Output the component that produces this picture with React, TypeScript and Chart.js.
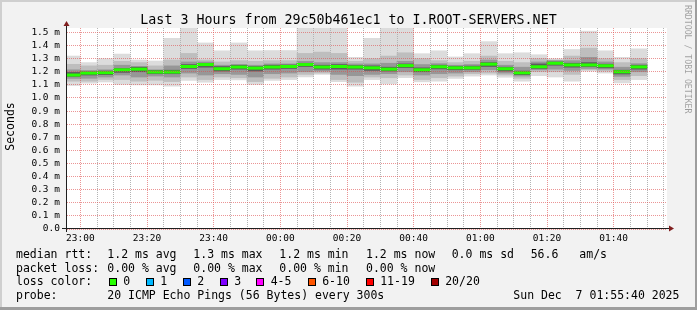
import React, { useEffect, useRef } from 'react';
import { Chart, registerables } from 'chart.js';

Chart.register(...registerables);

// ---------- data ----------
const title = 'Last 3 Hours from 29c50b461ec1 to I.ROOT-SERVERS.NET';
const yTitle = 'Seconds';
const watermark = 'RRDTOOL / TOBI OETIKER';

const rangeStart = '22:56';
const rangeEnd = '01:56';
const binMinutes = 5;

// start time of each 5-minute sample (300 s step)
const binStarts = [
  '22:55', '23:00', '23:05', '23:10', '23:15', '23:20', '23:25', '23:30', '23:35', '23:40', '23:45', '23:50',
  '23:55', '00:00', '00:05', '00:10', '00:15', '00:20', '00:25', '00:30', '00:35', '00:40', '00:45', '00:50',
  '00:55', '01:00', '01:05', '01:10', '01:15', '01:20', '01:25', '01:30', '01:35', '01:40', '01:45',
];

// median rtt (ms)
const median = [
  1.175, 1.19, 1.193, 1.215, 1.22, 1.198, 1.198, 1.24, 1.255, 1.223, 1.236, 1.228,
  1.236, 1.24, 1.255, 1.236, 1.24, 1.236, 1.23, 1.22, 1.247, 1.215, 1.238, 1.23,
  1.23, 1.258, 1.223, 1.192, 1.238, 1.265, 1.252, 1.252, 1.246, 1.2, 1.237,
];
// smoke: outermost pings (min / max)
const smokeMax = [
  1.32, 1.27, 1.3, 1.335, 1.29, 1.282, 1.455, 1.6, 1.42, 1.36, 1.42, 1.36,
  1.362, 1.362, 1.6, 1.6, 1.6, 1.31, 1.455, 1.6, 1.6, 1.338, 1.36, 1.313,
  1.338, 1.43, 1.338, 1.345, 1.33, 1.3, 1.37, 1.51, 1.36, 1.31, 1.375,
];
const smokeMin = [
  1.095, 1.113, 1.122, 1.103, 1.1, 1.1, 1.09, 1.134, 1.12, 1.14, 1.138, 1.103,
  1.134, 1.14, 1.16, 1.18, 1.125, 1.09, 1.14, 1.108, 1.154, 1.123, 1.128, 1.149,
  1.167, 1.175, 1.158, 1.128, 1.17, 1.16, 1.128, 1.205, 1.19, 1.115, 1.14,
];
// smoke: middle band
const smokeMidHi = [
  1.257, 1.245, 1.25, 1.28, 1.27, 1.245, 1.29, 1.34, 1.29, 1.275, 1.285, 1.28,
  1.285, 1.285, 1.34, 1.35, 1.34, 1.28, 1.3, 1.32, 1.345, 1.3, 1.285, 1.27,
  1.28, 1.32, 1.28, 1.27, 1.3, 1.29, 1.32, 1.38, 1.3, 1.27, 1.3,
];
const smokeMidLo = [
  1.128, 1.128, 1.141, 1.14, 1.128, 1.135, 1.125, 1.16, 1.14, 1.16, 1.154, 1.125,
  1.15, 1.16, 1.18, 1.19, 1.14, 1.12, 1.16, 1.154, 1.175, 1.14, 1.154, 1.167,
  1.185, 1.19, 1.175, 1.15, 1.2, 1.2, 1.18, 1.215, 1.205, 1.14, 1.17,
];
// smoke: inner band
const smokeInHi = [
  1.215, 1.21, 1.215, 1.25, 1.24, 1.215, 1.245, 1.275, 1.275, 1.25, 1.255, 1.25,
  1.26, 1.26, 1.28, 1.27, 1.27, 1.26, 1.26, 1.265, 1.28, 1.255, 1.262, 1.25,
  1.255, 1.29, 1.25, 1.235, 1.275, 1.285, 1.285, 1.31, 1.275, 1.235, 1.262,
];
const smokeInLo = [
  1.149, 1.15, 1.16, 1.175, 1.16, 1.167, 1.16, 1.19, 1.175, 1.185, 1.18, 1.16,
  1.185, 1.19, 1.2, 1.205, 1.18, 1.17, 1.18, 1.185, 1.2, 1.175, 1.185, 1.19,
  1.2, 1.215, 1.19, 1.167, 1.215, 1.22, 1.21, 1.225, 1.22, 1.165, 1.2,
];
// smoke: darkest core around the median
const smokeCoreHi = [
  1.195, 1.2, 1.205, 1.225, 1.235, 1.21, 1.212, 1.255, 1.265, 1.24, 1.25, 1.24,
  1.25, 1.252, 1.265, 1.25, 1.255, 1.248, 1.245, 1.235, 1.26, 1.23, 1.25, 1.242,
  1.243, 1.27, 1.235, 1.205, 1.26, 1.275, 1.265, 1.27, 1.258, 1.212, 1.25,
];
const smokeCoreLo = [
  1.165, 1.175, 1.178, 1.195, 1.2, 1.185, 1.185, 1.225, 1.235, 1.205, 1.22, 1.205,
  1.22, 1.225, 1.24, 1.22, 1.22, 1.22, 1.21, 1.205, 1.232, 1.2, 1.222, 1.215,
  1.218, 1.24, 1.205, 1.178, 1.225, 1.25, 1.235, 1.24, 1.23, 1.183, 1.22,
];

const xTickLabels = ['23:00', '23:20', '23:40', '00:00', '00:20', '00:40', '01:00', '01:20', '01:40'];
const yTickValues = [0, 0.1, 0.2, 0.3, 0.4, 0.5, 0.6, 0.7, 0.8, 0.9, 1.0, 1.1, 1.2, 1.3, 1.4, 1.5];
const yMax = 1.534;

const rttLabel = 'median rtt:';
const rttStats = ['1.2 ms avg', '1.3 ms max', '1.2 ms min', '1.2 ms now', '0.0 ms sd', '56.6', 'am/s'];
const lossLabel = 'packet loss:';
const lossStats = ['0.00 % avg', '0.00 % max', '0.00 % min', '0.00 % now'];
const lossColorLabel = 'loss color:';
const lossNames = ['0', '1', '2', '3', '4-5', '6-10', '11-19', '20/20'];
const lossColors = ['#26ff00', '#00b8ff', '#0059ff', '#7e00ff', '#ff00ff', '#ff5500', '#ff0000', '#a10000'];
const probeLabel = 'probe:';
const probeText = '20 ICMP Echo Pings (56 Bytes) every 300s';
const dateText = 'Sun Dec  7 01:55:40 2025';

// ---------- style ----------
const MONO = '"DejaVu Sans Mono", monospace';
const BACK = '#f2f2f2';
const SHADEA = '#cfcfcf';
const SHADEB = '#9e9e9e';
const GRID_DOT = '#b4b4b4';
const MGRID = 'rgba(222,79,79,0.6)';
const AXIS = '#1f1f1f';
const ARROW = '#801f1f';
const MED_HALF = 0.009;

const toMin = (t: string) => {
  const [h, m] = t.split(':').map(Number);
  return (h < 12 ? h + 24 : h) * 60 + m;
};
const T0 = toMin(rangeStart);
const T1 = toMin(rangeEnd);
const xOf = (t: string) => toMin(t) - T0;
const majorX = xTickLabels.map(xOf);

const band = (lo: number[], hi: number[]) =>
  binStarts.map((t, i) => ({ x: xOf(t) + binMinutes / 2, y: [lo[i], hi[i]] }));

const decor = {
  id: 'decor',
  beforeDraw(chart: any) {
    const { ctx, chartArea: a, width, height } = chart;
    ctx.save();
    ctx.fillStyle = BACK;
    ctx.fillRect(0, 0, width, height);
    ctx.fillStyle = SHADEA;
    ctx.fillRect(0, 0, width, 2);
    ctx.fillRect(0, 0, 2, height);
    ctx.fillStyle = SHADEB;
    ctx.fillRect(0, height - 3, width, 3);
    ctx.fillRect(width - 2, 0, 2, height);
    ctx.fillStyle = '#ffffff';
    ctx.fillRect(a.left, a.top, a.right - a.left, a.bottom - a.top);
    ctx.restore();
  },
  afterDatasetsDraw(chart: any) {
    // minor (5 minute) vertical grid, dotted, drawn over the smoke like rrdtool does
    const { ctx, chartArea: a } = chart;
    const xs = chart.scales.x;
    ctx.save();
    ctx.fillStyle = GRID_DOT;
    for (let v = majorX[0] % binMinutes; v < T1 - T0; v += binMinutes) {
      if (majorX.includes(v)) continue;
      const px = Math.round(xs.getPixelForValue(v) - 0.5);
      for (let y = Math.round(a.top); y < a.bottom - 1; y += 2) ctx.fillRect(px, y, 1, 1);
    }
    ctx.restore();
  },
  afterDraw(chart: any) {
    const { ctx, chartArea: a } = chart;
    ctx.save();
    // axes
    const yAx = a.bottom - 0.5;
    const xAx = a.left - 0.5;
    ctx.strokeStyle = AXIS;
    ctx.lineWidth = 1;
    ctx.beginPath();
    ctx.moveTo(a.left - 5, yAx);
    ctx.lineTo(a.right + 3, yAx);
    ctx.moveTo(xAx, a.bottom + 3);
    ctx.lineTo(xAx, a.top - 2);
    ctx.stroke();
    ctx.fillStyle = ARROW;
    ctx.beginPath();
    ctx.moveTo(a.right + 2, yAx - 3);
    ctx.lineTo(a.right + 7, yAx);
    ctx.lineTo(a.right + 2, yAx + 3);
    ctx.closePath();
    ctx.fill();
    ctx.beginPath();
    ctx.moveTo(xAx - 3, a.top - 2);
    ctx.lineTo(xAx, a.top - 7);
    ctx.lineTo(xAx + 3, a.top - 2);
    ctx.closePath();
    ctx.fill();

    // title
    ctx.fillStyle = '#000';
    ctx.font = `13.3px ${MONO}`;
    ctx.textAlign = 'center';
    ctx.textBaseline = 'alphabetic';
    ctx.fillText(title, 348.5, 23.5);

    // y title
    ctx.save();
    ctx.font = `11.5px ${MONO}`;
    ctx.translate(11, 126.5);
    ctx.rotate(-Math.PI / 2);
    ctx.textAlign = 'center';
    ctx.textBaseline = 'middle';
    ctx.fillText(yTitle, 0, 0);
    ctx.restore();

    // watermark
    ctx.save();
    ctx.font = `8.2px ${MONO}`;
    ctx.fillStyle = 'rgba(0,0,0,0.35)';
    ctx.translate(687, 5);
    ctx.rotate(Math.PI / 2);
    ctx.textAlign = 'left';
    ctx.textBaseline = 'middle';
    ctx.fillText(watermark, 0, 0);
    ctx.restore();

    // legend
    ctx.font = `11.5px ${MONO}`;
    ctx.textAlign = 'left';
    ctx.textBaseline = 'alphabetic';
    ctx.fillStyle = '#000';
    const statX = [107.3, 193.3, 279.3, 366, 451.7, 530.7, 579.3];
    const rows = [258, 271.7, 285.4, 299];
    ctx.fillText(rttLabel, 16, rows[0]);
    rttStats.forEach((s, i) => ctx.fillText(s, statX[i], rows[0]));
    ctx.fillText(lossLabel, 16, rows[1]);
    lossStats.forEach((s, i) => ctx.fillText(s, statX[i], rows[1]));
    ctx.fillText(lossColorLabel, 16, rows[2]);
    const boxX = [108.5, 145.5, 182.5, 219.5, 256, 307.5, 365.5, 430.5];
    lossNames.forEach((n, i) => {
      const bx = Math.round(boxX[i]);
      ctx.fillStyle = lossColors[i];
      ctx.fillRect(bx, 278, 8, 8);
      ctx.strokeStyle = '#000';
      ctx.strokeRect(bx + 0.5, 278.5, 7, 7);
      ctx.fillStyle = '#000';
      ctx.fillText(n, boxX[i] + 14.7, rows[2]);
    });
    ctx.fillText(probeLabel, 16, rows[3]);
    ctx.fillText(probeText, 107.3, rows[3]);
    ctx.fillText(dateText, 513.3, rows[3]);
    ctx.restore();
  },
};

export default function App() {
  const ref = useRef<HTMLCanvasElement>(null);
  useEffect(() => {
    document.body.style.margin = '0';
    const canvas = ref.current!;
    const chart = new Chart(canvas, {
      type: 'bar',
      data: {
        datasets: [
          {
            label: 'median',
            data: binStarts.map((t, i) => ({
              x: xOf(t) + binMinutes / 2,
              y: [median[i] - MED_HALF, median[i] + MED_HALF],
            })),
            backgroundColor: lossColors[0],
            order: 0,
          },
          { label: 'core', data: band(smokeCoreLo, smokeCoreHi), backgroundColor: '#5c5c5c', order: 1 },
          { label: 'inner', data: band(smokeInLo, smokeInHi), backgroundColor: '#979797', order: 2 },
          { label: 'mid', data: band(smokeMidLo, smokeMidHi), backgroundColor: '#bebebe', order: 3 },
          { label: 'outer', data: band(smokeMin, smokeMax), backgroundColor: '#dcdcdc', order: 4 },
        ] as any,
      },
      options: {
        animation: false,
        responsive: false,
        devicePixelRatio: 1,
        layout: { padding: { left: 0, top: 28, right: 30, bottom: 67 } },
        datasets: {
          bar: { grouped: false, barPercentage: 1, categoryPercentage: 1, borderWidth: 0, clip: 0 } as any,
        },
        plugins: { legend: { display: false }, tooltip: { enabled: false }, title: { display: false } },
        scales: {
          x: {
            type: 'linear',
            min: 0,
            max: T1 - T0,
            offset: false,
            grid: { offset: false, z: 1, drawTicks: false, lineWidth: 1, color: MGRID } as any,
            border: { display: false, dash: [1, 1] },
            ticks: {
              autoSkip: false,
              maxRotation: 0,
              minRotation: 0,
              padding: 4,
              color: '#000',
              font: { family: MONO, size: 9.5 },
              callback: (v: any) => {
                const i = majorX.indexOf(Number(v));
                return i >= 0 ? xTickLabels[i] : '';
              },
            },
            afterBuildTicks: (axis: any) => {
              axis.ticks = majorX.map((v) => ({ value: v }));
            },
            afterFit: (axis: any) => {
              axis.height = 14;
            },
          } as any,
          y: {
            type: 'linear',
            min: 0,
            max: yMax,
            grid: { z: 1, drawTicks: false, lineWidth: 1, color: MGRID } as any,
            border: { display: false, dash: [1, 1] },
            ticks: {
              autoSkip: false,
              padding: 7,
              color: '#000',
              font: { family: MONO, size: 9.5 },
              callback: (v: any) => (Number(v) === 0 ? '0.0' : Number(v).toFixed(1) + ' m'),
            },
            afterBuildTicks: (axis: any) => {
              axis.ticks = yTickValues.map((v) => ({ value: v }));
            },
            afterFit: (axis: any) => {
              axis.width = 67;
            },
          } as any,
        },
      },
      plugins: [decor],
    });
    return () => chart.destroy();
  }, []);
  return <canvas ref={ref} width={697} height={310} style={{ display: 'block' }} />;
}
